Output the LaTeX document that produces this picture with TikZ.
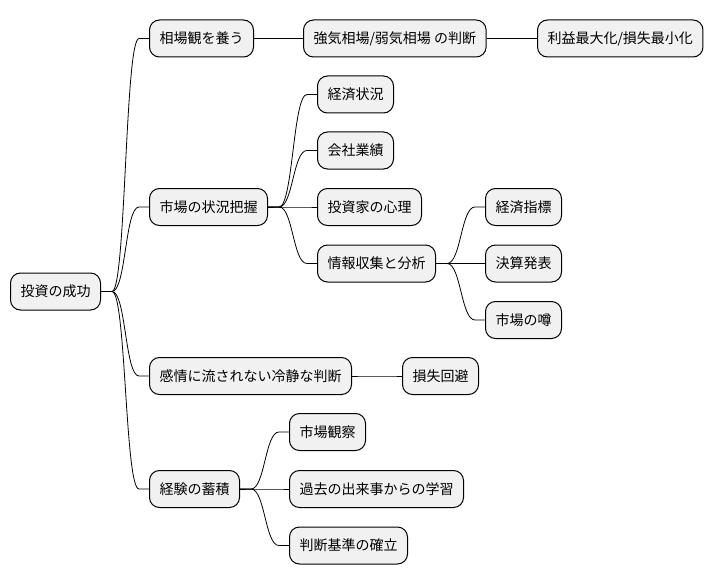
\documentclass[tikz,border=0pt]{standalone}
\usepackage{fontspec}
\setmainfont{Noto Sans CJK JP}
\usetikzlibrary{calc}
\definecolor{nodefill}{HTML}{F1F1F1}
\newcommand{\mmlink}[2]{\draw[conn] (#1.east) -- ++(11,0) .. controls +(14,0) and +(-14,0) .. ($(#2.west)+(-10,0)$) -- (#2.west);}
\begin{document}
\begin{tikzpicture}[x=1pt,y=-1pt,
  mm/.style={draw=black, fill=nodefill, line width=1pt, rounded corners=10pt, minimum height=37pt, inner xsep=10pt, inner ysep=0pt, anchor=west, font=\fontsize{14}{16}\selectfont},
  conn/.style={draw=black, line width=0.8pt}]
\useasboundingbox[fill=white] (0,0) rectangle (712,583);
\node[mm] (root) at (10,291.5) {投資の成功};
\node[mm] (a) at (149,38.5) {相場観を養う};
\node[mm] (a1) at (303,38.5) {強気相場/弱気相場 の判断};
\node[mm] (a2) at (537,38.5) {利益最大化/損失最小化};
\node[mm] (b) at (149,207) {市場の状況把握};
\node[mm] (b1) at (317,94.5) {経済状況};
\node[mm] (b2) at (317,150.5) {会社業績};
\node[mm] (b3) at (317,207) {投資家の心理};
\node[mm] (b4) at (317,263.5) {情報収集と分析};
\node[mm] (b41) at (485,207) {経済指標};
\node[mm] (b42) at (485,263.5) {決算発表};
\node[mm] (b43) at (485,320) {市場の噂};
\node[mm] (c) at (149,376) {感情に流されない冷静な判断};
\node[mm] (c1) at (402,376) {損失回避};
\node[mm] (d) at (149,489) {経験の蓄積};
\node[mm] (d1) at (289,432) {市場観察};
\node[mm] (d2) at (289,489) {過去の出来事からの学習};
\node[mm] (d3) at (289,545.5) {判断基準の確立};
\mmlink{root}{a}
\mmlink{root}{b}
\mmlink{root}{c}
\mmlink{root}{d}
\mmlink{a}{a1}
\mmlink{a1}{a2}
\mmlink{b}{b1}
\mmlink{b}{b2}
\mmlink{b}{b3}
\mmlink{b}{b4}
\mmlink{b4}{b41}
\mmlink{b4}{b42}
\mmlink{b4}{b43}
\mmlink{c}{c1}
\mmlink{d}{d1}
\mmlink{d}{d2}
\mmlink{d}{d3}
\end{tikzpicture}
\end{document}
